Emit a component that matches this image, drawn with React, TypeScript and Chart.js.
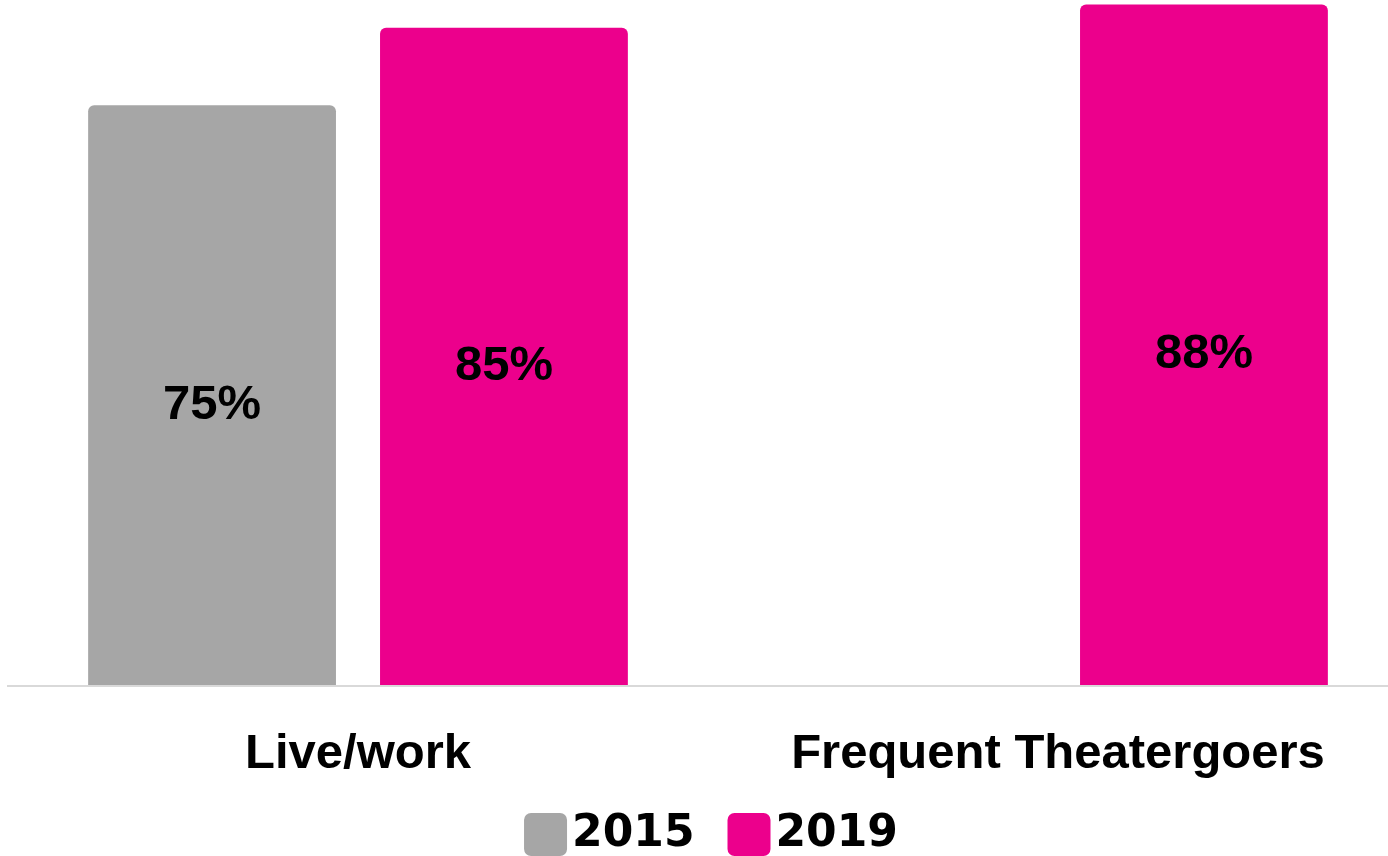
import React, { useEffect, useRef } from "react";
import { Chart, registerables } from "chart.js";

Chart.register(...registerables);

const categories = ["Live/work", "Frequent Theatergoers"];
const seriesLabels = ["2015", "2019"];
const values2015: (number | null)[] = [75, null];
const values2019: (number | null)[] = [85, 88];
const seriesColors = ["#A6A6A6", "#EC008C"];

const barLabelPlugin = {
  id: "barLabels",
  afterDatasetsDraw(chart: any) {
    const ctx = chart.ctx;
    ctx.save();
    ctx.font = "bold 49px 'Liberation Sans', Arial, sans-serif";
    ctx.fillStyle = "#000";
    ctx.textAlign = "center";
    ctx.textBaseline = "alphabetic";
    chart.data.datasets.forEach((ds: any, di: number) => {
      const meta = chart.getDatasetMeta(di);
      meta.data.forEach((bar: any, i: number) => {
        const v = ds.data[i];
        if (v === null || v === undefined) return;
        const cy = (bar.y + bar.base) / 2;
        ctx.fillText(v + "%", bar.x, cy + 23);
      });
    });
    ctx.restore();
  },
};

const legendPlugin = {
  id: "customLegend",
  afterDraw(chart: any) {
    const ctx = chart.ctx;
    ctx.save();
    ctx.font = "bold 44px 'DejaVu Sans', sans-serif";
    const box = 43;
    const gap = 5;
    const itemGap = 33;
    const items = chart.data.datasets.map((ds: any) => ({
      label: ds.label,
      color: ds.backgroundColor,
      w: ctx.measureText(ds.label).width,
    }));
    let total = 0;
    items.forEach((it: any, i: number) => {
      total += box + gap + it.w + (i < items.length - 1 ? itemGap : 0);
    });
    let x = 711 - total / 2;
    const top = 813;
    items.forEach((it: any) => {
      ctx.fillStyle = it.color;
      ctx.beginPath();
      (ctx as any).roundRect(x, top, box, box, 7);
      ctx.fill();
      ctx.fillStyle = "#000";
      ctx.textAlign = "left";
      ctx.textBaseline = "alphabetic";
      ctx.fillText(it.label, x + box + gap, 846);
      x += box + gap + it.w + itemGap;
    });
    ctx.restore();
  },
};

export default function App() {
  const ref = useRef<HTMLCanvasElement>(null);
  useEffect(() => {
    if (!ref.current) return;
    const chart = new Chart(ref.current, {
      type: "bar",
      data: {
        labels: categories,
        datasets: [
          {
            label: seriesLabels[0],
            data: values2015,
            backgroundColor: seriesColors[0],
            borderRadius: { topLeft: 6, topRight: 6, bottomLeft: 0, bottomRight: 0 },
            borderSkipped: false,
            categoryPercentage: 0.834,
            barPercentage: 0.849,
          },
          {
            label: seriesLabels[1],
            data: values2019,
            backgroundColor: seriesColors[1],
            borderRadius: { topLeft: 6, topRight: 6, bottomLeft: 0, bottomRight: 0 },
            borderSkipped: false,
            categoryPercentage: 0.834,
            barPercentage: 0.849,
          },
        ],
      },
      options: {
        animation: false,
        responsive: false,
        layout: { padding: { left: 8, right: 0, top: 0, bottom: 33 } },
        plugins: {
          legend: { display: false },
          tooltip: { enabled: false },
        },
        scales: {
          x: {
            grid: { display: false, drawTicks: false },
            border: { display: true, color: "#D9D9D9", width: 2, z: 1 },
            ticks: {
              color: "#000",
              padding: 39,
              font: { family: "'Liberation Sans', Arial, sans-serif", size: 49, weight: "bold" },
            },
          },
          y: {
            display: false,
            min: 0,
            max: 88.57,
          },
        },
      },
      plugins: [barLabelPlugin, legendPlugin],
    });
    return () => chart.destroy();
  }, []);
  return (
    <div
      style={{
        position: "fixed",
        left: 0,
        top: 0,
        width: 1388,
        height: 856,
        overflow: "hidden",
        background: "#fff",
      }}
    >
      <canvas ref={ref} width={1408} height={856} style={{ display: "block" }} />
    </div>
  );
}
